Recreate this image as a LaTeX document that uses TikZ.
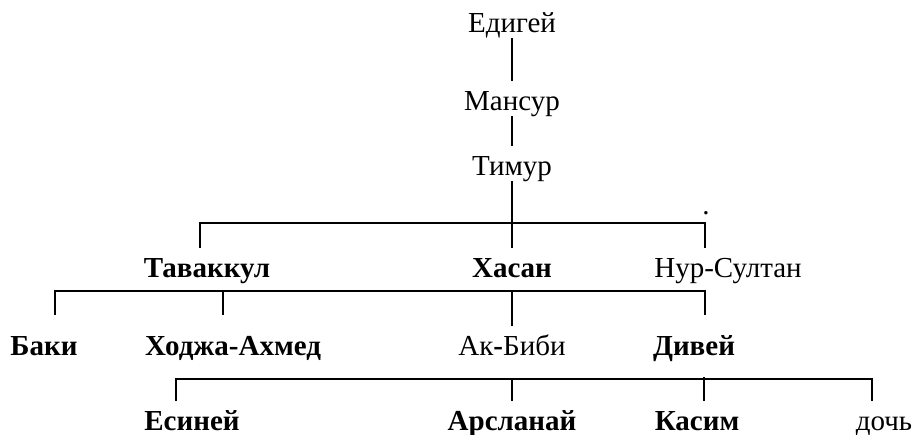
\documentclass[tikz,border=0pt]{standalone}
\usepackage{fontspec}
\setmainfont{Liberation Serif}

\begin{document}
\begin{tikzpicture}[x=0.5pt,y=-0.5pt,line width=0.9pt]
\tikzstyle{every node}=[font=\fontsize{14.5}{17}\selectfont,anchor=base,inner xsep=0pt,inner ysep=2.5pt,text height=11.5pt,text depth=0pt]
\tikzstyle{bf}=[font=\fontsize{14.5}{17}\selectfont\bfseries]
\tikzstyle{tall}=[text height=17pt]
\useasboundingbox (0,0) rectangle (914,434);
% names
\node (edig) at (512,32) {Едигей};
\node (mans) at (512,110) {Мансур};
\node (tim) at (512,175) {Тимур};
\node[bf] (tav) at (207,277) {Таваккул};
\node[bf] (has) at (512,277) {Хасан};
\node (nur) at (728,277) {Нур-Султан};
\node[bf,tall] (baki) at (44,355) {Баки};
\node[bf,tall] (hod) at (233,355) {Ходжа-Ахмед};
\node (akb) at (512,355) {Ак{\bfseries -}Биби};
\node[bf,tall] (div) at (694,355) {Дивей};
\node[bf] (esi) at (192,430) {Есиней};
\node[bf] (ars) at (512,430) {Арсланай};
\node[bf] (kas) at (697,430) {Касим};
\node (doch) at (884,430) {дочь};
\node[text height=0pt,inner ysep=0pt] (dot) at (706,214) {.};
% bars
\coordinate (b1a) at (200,223);
\coordinate (b1b) at (705,223);
\coordinate (b2a) at (55,291);
\coordinate (b2b) at (223,291);
\coordinate (b2c) at (705,291);
\coordinate (b3a) at (176,379);
\coordinate (b3c) at (704,379);
\coordinate (b3d) at (872,379);
% lines
\draw (edig.south)--(mans.north);
\draw (mans.south)--(tim.north);
\draw (tim.south)--(has.north);
\draw (b1a |- tav.north)--(b1a)--(b1b)--(b1b |- nur.north);
\draw (b2a |- baki.north)--(b2a)--(b2c)--(b2c |- div.north);
\draw (b2b)--(b2b |- hod.north);
\draw (akb.north |- b2a)--(akb.north);
\draw (b3a |- esi.north)--(b3a)--(b3d)--(b3d |- doch.north);
\draw (ars.north |- b3a)--(ars.north);
\draw ([yshift=1pt]b3c)--(b3c |- kas.north);

\end{tikzpicture}
\end{document}
